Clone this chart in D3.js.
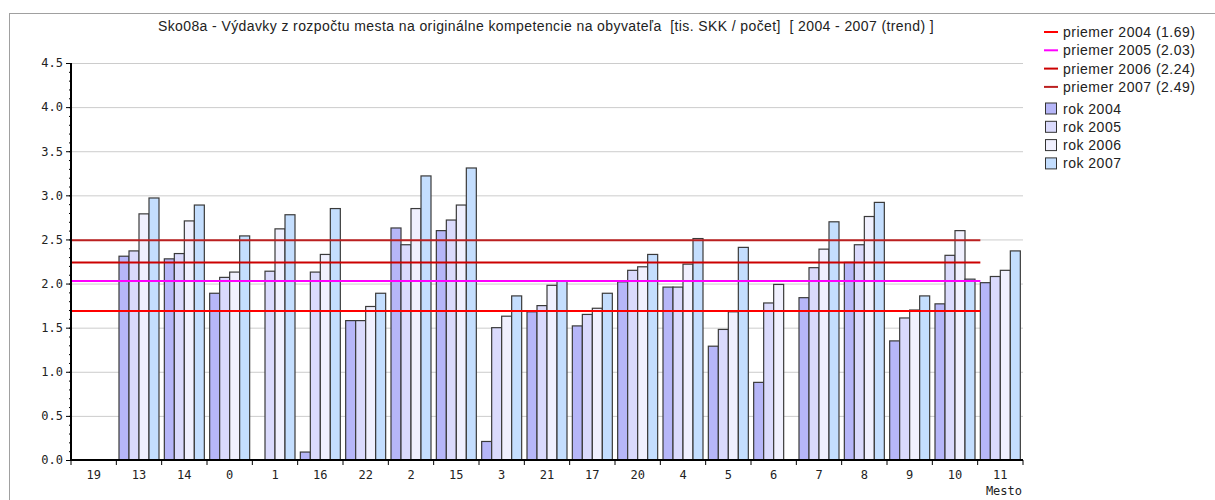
<!DOCTYPE html>
<html>
<head>
<meta charset="utf-8">
<script src="https://cdn.jsdelivr.net/npm/d3@7"></script>
<style>
  body { margin: 0; background: #fff; }
  svg text { fill: #222; }
</style>
</head>
<body>
<div id="chart"></div>
<script>
// chart data
const cities = ["19","13","14","0","1","16","22","2","15","3","21","17","20","4","5","6","7","8","9","10","11"];
const years = ["2004","2005","2006","2007"];
const rok2004 = [null,2.31,2.28,1.89,null,0.09,1.58,2.63,2.60,0.21,1.68,1.52,2.02,1.96,1.29,0.88,1.84,2.24,1.35,1.77,2.01];
const rok2005 = [null,2.37,2.34,2.07,2.14,2.13,1.58,2.44,2.72,1.50,1.75,1.65,2.15,1.96,1.48,1.78,2.18,2.44,1.61,2.32,2.08];
const rok2006 = [null,2.79,2.71,2.13,2.62,2.33,1.74,2.85,2.89,1.63,1.98,1.72,2.19,2.22,1.68,1.99,2.39,2.76,1.70,2.60,2.15];
const rok2007 = [null,2.97,2.89,2.54,2.78,2.85,1.89,3.22,3.31,1.86,2.03,1.89,2.33,2.51,2.41,null,2.70,2.92,1.86,2.05,2.37];
const averages = [1.69,2.03,2.24,2.49];
const yTicks = [0,0.5,1,1.5,2,2.5,3,3.5,4,4.5];

const barColors = ["#b6b6f8","#dadafc","#f0f0fe","#c4defe"];
const avgColors = ["#ff0000","#ff00ff","#cc0000","#bb2020"];

const width = 1215;
const height = 500;
const margin = {left: 71, right: 192, top: 63, bottom: 40};

const svg = d3.select("#chart")
  .append("svg")
  .attr("width", width)
  .attr("height", height);

// outer frame
svg.append("rect")
  .attr("x", 9.5).attr("y", 13.5)
  .attr("width", 1300).attr("height", 600)
  .attr("fill", "none")
  .attr("stroke", "#a0a0a0");

// title
svg.append("text")
  .attr("x", 546).attr("y", 31)
  .attr("text-anchor", "middle")
  .style("font-family", "'Liberation Sans', Arial, sans-serif")
  .style("font-size", "14px")
  .style("letter-spacing", "0.4px")
  .attr("xml:space", "preserve")
  .text("Sko08a - Výdavky z rozpočtu mesta na originálne kompetencie na obyvateľa  [tis. SKK / počet]  [ 2004 - 2007 (trend) ]");

// scales
const y = d3.scaleLinear()
  .domain([0, 4.5])
  .range([height - margin.bottom, margin.top]);

const x0 = d3.scaleBand()
  .domain(cities)
  .range([margin.left, width - margin.right]);

const x1 = d3.scaleBand()
  .domain(years)
  .range([0, x0.bandwidth()])
  .paddingOuter(0.267);

// gridlines
svg.append("g")
  .selectAll("line")
  .data(yTicks.filter(d => d > 0))
  .enter()
  .append("line")
    .attr("x1", margin.left).attr("x2", width - margin.right)
    .attr("y1", d => y(d) + 0.5).attr("y2", d => y(d) + 0.5)
    .attr("stroke", "#cccccc");

// bars
const series = [rok2004, rok2005, rok2006, rok2007];
const groups = svg.append("g")
  .selectAll("g")
  .data(cities)
  .enter()
  .append("g")
    .attr("transform", d => `translate(${x0(d)},0)`);

groups.selectAll("rect")
  .data((c, i) => years.map((yr, j) => ({year: yr, j: j, value: series[j][i]})).filter(d => d.value !== null))
  .enter()
  .append("rect")
    .attr("x", d => x1(d.year))
    .attr("y", d => y(d.value))
    .attr("width", x1.bandwidth())
    .attr("height", d => y(0) - y(d.value))
    .attr("fill", d => barColors[d.j])
    .attr("stroke", "#3a3a3a")
    .attr("stroke-width", 1.2);

// average lines
const avgEnd = x0(cities[cities.length - 1]) + x1(years[0]);
svg.append("g")
  .selectAll("line")
  .data(averages)
  .enter()
  .append("line")
    .attr("x1", margin.left).attr("x2", avgEnd)
    .attr("y1", d => y(d)).attr("y2", d => y(d))
    .attr("stroke", (d, i) => avgColors[i])
    .attr("stroke-width", 2);

// y axis with minor ticks
const monoFont = "'DejaVu Sans Mono', monospace";
svg.append("g")
  .attr("transform", `translate(${margin.left},0)`)
  .call(d3.axisLeft(y).tickValues(d3.range(0, 46).map(d => d / 10)).tickSize(2).tickFormat(""))
  .call(g => g.select(".domain").remove())
  .call(g => g.selectAll("line").attr("stroke", "#000"));

svg.append("g")
  .attr("transform", `translate(${margin.left},0)`)
  .call(d3.axisLeft(y).tickValues(yTicks).tickSize(5).tickPadding(3).tickFormat(d3.format(".1f")))
  .call(g => g.select(".domain").remove())
  .call(g => g.selectAll("line").attr("stroke", "#000"))
  .call(g => g.selectAll("text").style("font-family", monoFont).style("font-size", "12px").attr("fill", "#222"));

svg.append("line")
  .attr("x1", margin.left).attr("x2", margin.left)
  .attr("y1", y(4.5)).attr("y2", y(0) + 1)
  .attr("stroke", "#000").attr("stroke-width", 2);

// x axis
const xAxis = svg.append("g")
  .attr("transform", `translate(0,${height - margin.bottom})`)
  .call(d3.axisBottom(x0).tickSize(0).tickPadding(10))
  .call(g => g.select(".domain").remove())
  .call(g => g.selectAll("text").style("font-family", monoFont).style("font-size", "12px").attr("fill", "#222"));

xAxis.selectAll(".sep")
  .data(cities.concat(["end"]))
  .enter()
  .append("line")
    .attr("x1", (d, i) => margin.left + i * x0.step())
    .attr("x2", (d, i) => margin.left + i * x0.step())
    .attr("y1", 0).attr("y2", 5)
    .attr("stroke", "#000");

svg.append("line")
  .attr("x1", margin.left - 1).attr("x2", width - margin.right)
  .attr("y1", y(0)).attr("y2", y(0))
  .attr("stroke", "#000").attr("stroke-width", 2);

svg.append("text")
  .attr("x", width - margin.right - 1).attr("y", 495)
  .attr("text-anchor", "end")
  .style("font-family", monoFont)
  .style("font-size", "12px")
  .text("Mesto");

// legend
const legendFont = "'Liberation Sans', Arial, sans-serif";
const legend = svg.append("g").attr("transform", "translate(1044,0)");

const avgLegend = legend.selectAll(".avg")
  .data(averages)
  .enter()
  .append("g")
    .attr("transform", (d, i) => `translate(0,${32 + i * 18.3})`);
avgLegend.append("line")
  .attr("x1", 0).attr("x2", 14)
  .attr("stroke", (d, i) => avgColors[i])
  .attr("stroke-width", 2);
avgLegend.append("text")
  .attr("x", 19).attr("y", 5)
  .style("font-family", legendFont).style("font-size", "14px").style("letter-spacing", "0.5px")
  .text((d, i) => `priemer ${years[i]} (${d.toFixed(2)})`);

const barLegend = legend.selectAll(".bar")
  .data(years)
  .enter()
  .append("g")
    .attr("transform", (d, i) => `translate(0,${108.5 + i * 18.3})`);
barLegend.append("rect")
  .attr("x", 1.5).attr("y", -5.5)
  .attr("width", 11).attr("height", 11)
  .attr("fill", (d, i) => barColors[i])
  .attr("stroke", "#333");
barLegend.append("text")
  .attr("x", 19).attr("y", 5)
  .style("font-family", legendFont).style("font-size", "14px").style("letter-spacing", "0.5px")
  .text(d => `rok ${d}`);
</script>
</body>
</html>
